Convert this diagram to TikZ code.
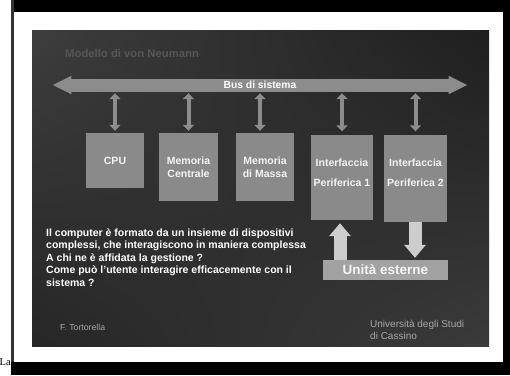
\documentclass[tikz,border=0pt]{standalone}
\usepackage{fontspec}
\setmainfont{Liberation Sans}
\newfontfamily\serifLa{Liberation Serif}
\usetikzlibrary{arrows.meta,shadings}
\definecolor{busgray}{HTML}{8C8C8C}
\definecolor{boxgray}{HTML}{8A8A8A}
\definecolor{biggray}{HTML}{CDCDCD}
\definecolor{extgray}{HTML}{A2A2A2}
\definecolor{titlegray}{HTML}{565656}
\definecolor{footgray}{HTML}{A8A8A8}
\definecolor{boxtext}{HTML}{F4F4F4}
\begin{document}
\begin{tikzpicture}[x=1pt,y=-1pt,
  unitbox/.style={fill=boxgray, draw=none, inner sep=0pt, text=boxtext,
    font=\bfseries\fontsize{10.5}{12.5}\selectfont, align=center},
  boxlabel/.style={inner sep=0pt, text=boxtext,
    font=\bfseries\fontsize{10.5}{12.5}\selectfont, align=center},
  busarrow/.style={draw=busgray, line width=4pt,
    {Triangle[width=11pt,length=6pt]}-{Triangle[width=11pt,length=6pt]}},
  bigarrow/.style={draw=biggray, line width=13pt, -{Triangle[width=21pt,length=13pt]}},
]
\useasboundingbox (0,0) rectangle (510,375);
\fill[white] (0,0) rectangle (510,375);
% frame
\fill[black] (11,0) rectangle (510,12);
\fill[black] (503,0) rectangle (510,375);
\fill[black] (11,362) rectangle (510,375);
\fill[black!80] (11,0) rectangle (13.5,362);
% slide background
\shade[upper left=black!76, upper right=black!88, lower left=black!85, lower right=black!77]
  (32,30) rectangle (489,346);
% title
\node[anchor=base west, inner sep=0pt, text=titlegray,
  font=\bfseries\fontsize{11.3}{13}\selectfont] (title) at (65,57) {Modello di von Neumann};
% bus
\node[fill=busgray, inner sep=0pt, minimum width=378pt, minimum height=13pt,
  text=white, font=\bfseries\fontsize{10.3}{12}\selectfont] (bus) at (260,85) {Bus di sistema};
\fill[busgray] ([yshift=2.5pt,xshift=0.5pt]bus.north west) -- ([xshift=-18pt]bus.west)
  -- ([yshift=-2.5pt,xshift=0.5pt]bus.south west) -- cycle;
\fill[busgray] ([yshift=2.5pt,xshift=-0.5pt]bus.north east) -- ([xshift=18pt]bus.east)
  -- ([yshift=-2.5pt,xshift=-0.5pt]bus.south east) -- cycle;
% units
\node[unitbox, minimum width=58pt, minimum height=55pt] (cpu) at (115,160.5) {CPU};
\node[unitbox, minimum width=59pt, minimum height=68pt] (memc) at (188.5,167) {Memoria\\Centrale};
\node[unitbox, minimum width=58pt, minimum height=68pt] (memm) at (265,167) {Memoria\\di Massa};
\node[unitbox, minimum width=62pt, minimum height=85pt] (int1) at (342,177.5) {};
\node[unitbox, minimum width=63pt, minimum height=87pt] (int2) at (415.5,178.5) {};
\node[boxlabel] (int1t) at (342,173) {Interfaccia\\[7.5pt]Periferica 1};
\node[boxlabel] (int2t) at (415.5,173) {Interfaccia\\[7.5pt]Periferica 2};
% bus connections
\coordinate (mmx) at (260,110);
\draw[busarrow, shorten <=1.5pt, shorten >=2pt] (bus.south -| cpu.north) -- (cpu.north);
\draw[busarrow, shorten <=1.5pt, shorten >=2pt] (bus.south -| memc.north) -- (memc.north);
\draw[busarrow, shorten <=1.5pt, shorten >=2pt] (bus.south -| mmx) -- (memm.north -| mmx);
\draw[busarrow, shorten <=1.5pt, shorten >=3.5pt] (bus.south -| int1.north) -- (int1.north);
\draw[busarrow, shorten <=1.5pt, shorten >=3.5pt] (bus.south -| int2.north) -- (int2.north);
% external units
\node[fill=extgray, inner sep=0pt, minimum width=125pt, minimum height=20pt, text=boxtext,
  font=\bfseries\fontsize{13.5}{15}\selectfont] (ext) at (385.5,270) {Unità esterne};
\coordinate (upx) at (340,240);
\coordinate (dnx) at (415,240);
\draw[bigarrow, shorten >=3pt] (ext.north -| upx) -- (int1.south -| upx);
\draw[bigarrow, shorten >=2pt] (int2.south -| dnx) -- (ext.north -| dnx);
% description
\node[anchor=north west, inner sep=0pt, align=left, text=white,
  font=\bfseries\fontsize{10.5}{12.5}\selectfont] (desc) at (46,228.5)
  {Il computer è formato da un insieme di dispositivi\\
   complessi, che interagiscono in maniera complessa\\
   A chi ne è affidata la gestione ?\\
   Come può l'utente interagire efficacemente con il\\
   sistema ?};
% footers
\node[anchor=base west, inner sep=0pt, text=footgray,
  font=\fontsize{8.7}{10}\selectfont] (author) at (60,330) {F. Tortorella};
\node[anchor=north west, inner sep=0pt, align=left, text=footgray,
  font=\fontsize{10}{12}\selectfont] (univ) at (370,320) {Università degli Studi\\di Cassino};
% stray caption
\node[anchor=base west, inner sep=0pt, font=\serifLa\fontsize{10.5}{12}\selectfont] (la) at (-0.5,365) {La};
\end{tikzpicture}
\end{document}
